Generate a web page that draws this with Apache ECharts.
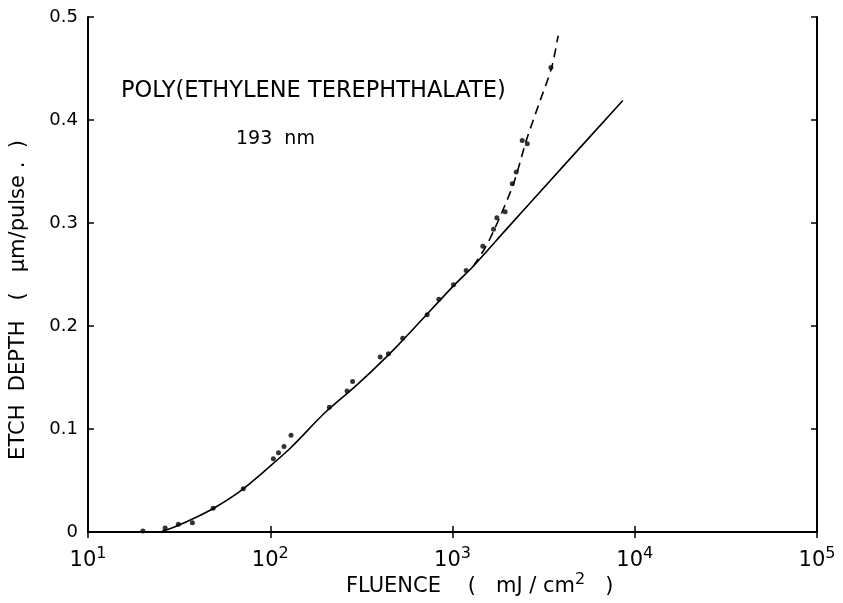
<!DOCTYPE html>
<html>
<head>
<meta charset="utf-8">
<script src="https://cdn.jsdelivr.net/npm/echarts@6/dist/echarts.min.js"></script>
<style>
  html, body { margin: 0; padding: 0; background: #fff; }
  #chart { width: 843px; height: 603px; }
</style>
</head>
<body>
<div id="chart"></div>
<script>
// measured points (fluence mJ/cm2, etch depth um/pulse)
const dotFluence = [20, 26.5, 31.3, 37.4, 48.6, 71.1, 104, 111, 119, 130, 211, 264, 283, 401, 445, 533, 726, 841,
  1012, 1188, 1467, 1679, 1751, 1945, 2127, 2237, 2413, 2573, 3468];
const dotDepth = [0.001, 0.004, 0.0075, 0.009, 0.023, 0.042, 0.071, 0.077, 0.083, 0.094, 0.121, 0.137, 0.146, 0.170, 0.173, 0.188, 0.211, 0.226,
  0.240, 0.254, 0.2775, 0.294, 0.305, 0.311, 0.338, 0.3495, 0.380, 0.377, 0.451];

// solid fit curve
const solidFluence = [25, 30, 40, 50, 70, 100, 130, 200, 300, 500, 1000, 1300, 2000, 4000, 8600];
const solidDepth = [0.0, 0.005, 0.015, 0.024, 0.041, 0.064, 0.082, 0.116, 0.143, 0.181, 0.238, 0.258, 0.295, 0.354, 0.419];

// dashed extension
const dashFluence = [1300, 1500, 1700, 2160, 2540, 3000, 3500, 3800];
const dashDepth = [0.258, 0.275, 0.294, 0.338, 0.380, 0.417, 0.451, 0.482];

const yTickLabels = ['0', '0.1', '0.2', '0.3', '0.4', '0.5'];

const FONT = '"DejaVu Sans", sans-serif';
const zip = (a, b) => a.map((v, i) => [v, b[i]]);

const chart = echarts.init(document.getElementById('chart'));

const tickStyle = { show: true, inside: true, length: 6, lineStyle: { color: '#000', width: 1.5 } };
const lineStyle = { show: true, lineStyle: { color: '#000', width: 2 } };

chart.setOption({
  animation: false,
  grid: { left: 88, right: 26, top: 17, bottom: 71, containLabel: false },
  graphic: [
    {
      type: 'text', left: 121, top: 80,
      style: { text: 'POLY(ETHYLENE TEREPHTHALATE)', font: '22.5px ' + FONT, fill: '#000' }
    },
    {
      type: 'text', left: 236, top: 130,
      style: { text: '193  nm', font: '19px ' + FONT, fill: '#000' }
    },
    {
      type: 'text', left: 346, top: 572,
      style: {
        text: '{t|FLUENCE    (   mJ / cm}{s|2}{t|   )}',
        rich: {
          t: { font: '21px ' + FONT, fill: '#000', verticalAlign: 'bottom' },
          s: { font: '16px ' + FONT, fill: '#000', verticalAlign: 'bottom', padding: [0, 0, 9, 0] }
        }
      }
    },
    {
      type: 'text', x: 19, y: 300, rotation: Math.PI / 2,
      style: {
        text: 'ETCH  DEPTH   (   μm/pulse .  )', font: '21px ' + FONT, fill: '#000',
        align: 'center', verticalAlign: 'middle'
      }
    }
  ],
  xAxis: [
    {
      type: 'log', logBase: 10, min: 10, max: 100000,
      axisLine: lineStyle,
      axisTick: tickStyle,
      minorTick: { show: false },
      splitLine: { show: false },
      axisLabel: {
        margin: 14,
        formatter: v => '{b|10}{s|' + Math.round(Math.log10(v)) + '}',
        rich: {
          b: { fontSize: 21, fontFamily: FONT, color: '#000', verticalAlign: 'bottom' },
          s: { fontSize: 16, fontFamily: FONT, color: '#000', verticalAlign: 'bottom', padding: [0, 0, 9, 0] }
        }
      }
    },
    {
      type: 'log', logBase: 10, min: 10, max: 100000, position: 'top',
      axisLine: lineStyle, axisTick: tickStyle, axisLabel: { show: false }, splitLine: { show: false }
    }
  ],
  yAxis: [
    {
      type: 'value', min: 0, max: 0.5, interval: 0.1,
      axisLine: lineStyle,
      axisTick: tickStyle,
      splitLine: { show: false },
      axisLabel: {
        margin: 10, color: '#000', fontSize: 18, fontFamily: FONT,
        formatter: v => yTickLabels[Math.round(v * 10)]
      }
    },
    {
      type: 'value', min: 0, max: 0.5, interval: 0.1, position: 'right',
      axisLine: lineStyle, axisTick: tickStyle, axisLabel: { show: false }, splitLine: { show: false }
    }
  ],
  series: [
    {
      type: 'line', data: zip(solidFluence, solidDepth), smooth: 0.3, symbol: 'none',
      lineStyle: { color: '#000', width: 1.6 }, z: 2
    },
    {
      type: 'line', data: zip(dashFluence, dashDepth), smooth: 0.3, symbol: 'none',
      lineStyle: { color: '#000', width: 1.6, type: [9, 6] }, z: 2
    },
    {
      type: 'scatter', data: zip(dotFluence, dotDepth), symbol: 'circle', symbolSize: 5,
      itemStyle: { color: '#000' }, z: 3
    }
  ]
});
</script>
</body>
</html>
